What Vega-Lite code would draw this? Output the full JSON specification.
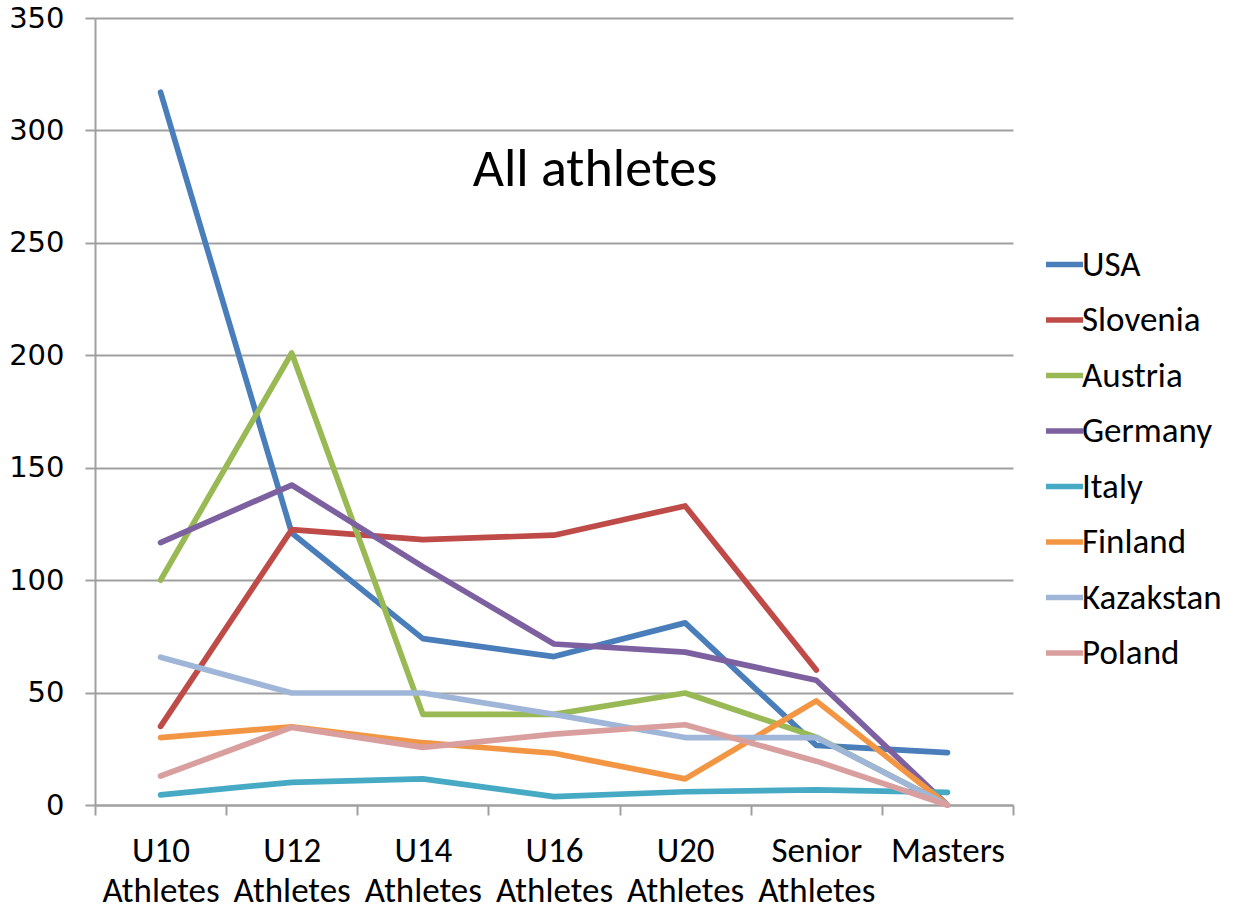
{
  "$schema": "https://vega.github.io/schema/vega-lite/v6.json",
  "width": 918,
  "height": 787,
  "autosize": {"type": "none"},
  "padding": {"left": 95, "top": 18, "right": 222, "bottom": 108},
  "background": "white",
  "config": {"view": {"stroke": null}},
  "title": {
    "text": "All athletes",
    "font": "Carlito, Liberation Sans Narrow, Open Sans",
    "fontSize": 54,
    "fontWeight": "normal",
    "color": "black",
    "anchor": "middle",
    "frame": "group",
    "dx": 41,
    "offset": -236,
    "baseline": "alphabetic"
  },
  "data": {
    "values": [
      {"country": "USA", "group": "U10 Athletes", "value": 317},
      {"country": "USA", "group": "U12 Athletes", "value": 121},
      {"country": "USA", "group": "U14 Athletes", "value": 74},
      {"country": "USA", "group": "U16 Athletes", "value": 66},
      {"country": "USA", "group": "U20 Athletes", "value": 81},
      {"country": "USA", "group": "Senior Athletes", "value": 26.5},
      {"country": "USA", "group": "Masters", "value": 23.3},
      {"country": "Slovenia", "group": "U10 Athletes", "value": 35},
      {"country": "Slovenia", "group": "U12 Athletes", "value": 122.5},
      {"country": "Slovenia", "group": "U14 Athletes", "value": 118},
      {"country": "Slovenia", "group": "U16 Athletes", "value": 120},
      {"country": "Slovenia", "group": "U20 Athletes", "value": 133},
      {"country": "Slovenia", "group": "Senior Athletes", "value": 60},
      {"country": "Austria", "group": "U10 Athletes", "value": 100},
      {"country": "Austria", "group": "U12 Athletes", "value": 201},
      {"country": "Austria", "group": "U14 Athletes", "value": 40.3},
      {"country": "Austria", "group": "U16 Athletes", "value": 40.3},
      {"country": "Austria", "group": "U20 Athletes", "value": 49.8},
      {"country": "Austria", "group": "Senior Athletes", "value": 30.2},
      {"country": "Austria", "group": "Masters", "value": 0},
      {"country": "Germany", "group": "U10 Athletes", "value": 116.7},
      {"country": "Germany", "group": "U12 Athletes", "value": 142.3},
      {"country": "Germany", "group": "U14 Athletes", "value": 106},
      {"country": "Germany", "group": "U16 Athletes", "value": 71.6},
      {"country": "Germany", "group": "U20 Athletes", "value": 68},
      {"country": "Germany", "group": "Senior Athletes", "value": 55.5},
      {"country": "Germany", "group": "Masters", "value": 0},
      {"country": "Italy", "group": "U10 Athletes", "value": 4.5},
      {"country": "Italy", "group": "U12 Athletes", "value": 10.1},
      {"country": "Italy", "group": "U14 Athletes", "value": 11.6},
      {"country": "Italy", "group": "U16 Athletes", "value": 3.7},
      {"country": "Italy", "group": "U20 Athletes", "value": 5.9},
      {"country": "Italy", "group": "Senior Athletes", "value": 6.7},
      {"country": "Italy", "group": "Masters", "value": 5.6},
      {"country": "Finland", "group": "U10 Athletes", "value": 30},
      {"country": "Finland", "group": "U12 Athletes", "value": 34.8},
      {"country": "Finland", "group": "U14 Athletes", "value": 27.7},
      {"country": "Finland", "group": "U16 Athletes", "value": 23},
      {"country": "Finland", "group": "U20 Athletes", "value": 11.6},
      {"country": "Finland", "group": "Senior Athletes", "value": 46.3},
      {"country": "Finland", "group": "Masters", "value": 0},
      {"country": "Kazakstan", "group": "U10 Athletes", "value": 65.7},
      {"country": "Kazakstan", "group": "U12 Athletes", "value": 49.8},
      {"country": "Kazakstan", "group": "U14 Athletes", "value": 49.8},
      {"country": "Kazakstan", "group": "U16 Athletes", "value": 40.3},
      {"country": "Kazakstan", "group": "U20 Athletes", "value": 30},
      {"country": "Kazakstan", "group": "Senior Athletes", "value": 30},
      {"country": "Kazakstan", "group": "Masters", "value": 0},
      {"country": "Poland", "group": "U10 Athletes", "value": 12.9},
      {"country": "Poland", "group": "U12 Athletes", "value": 34.5},
      {"country": "Poland", "group": "U14 Athletes", "value": 25.6},
      {"country": "Poland", "group": "U16 Athletes", "value": 31.5},
      {"country": "Poland", "group": "U20 Athletes", "value": 35.7},
      {"country": "Poland", "group": "Senior Athletes", "value": 19.5},
      {"country": "Poland", "group": "Masters", "value": 0}
    ]
  },
  "mark": {"type": "line", "strokeWidth": 5.7, "strokeCap": "round", "strokeJoin": "round"},
  "encoding": {
    "x": {
      "field": "group",
      "type": "nominal",
      "sort": ["U10 Athletes", "U12 Athletes", "U14 Athletes", "U16 Athletes", "U20 Athletes", "Senior Athletes", "Masters"],
      "scale": {"type": "band", "paddingInner": 0, "paddingOuter": 0},
      "axis": {
        "title": null,
        "tickBand": "extent",
        "grid": false,
        "domainColor": "#a0a0a0",
        "domainWidth": 2,
        "tickColor": "#a0a0a0",
        "tickWidth": 2,
        "tickSize": 10,
        "labelAngle": 0,
        "labelFont": "Carlito, Liberation Sans Narrow, Open Sans",
        "labelFontSize": 35,
        "labelColor": "black",
        "labelPadding": 18,
        "labelLineHeight": 40,
        "labelBaseline": "top",
        "labelExpr": "split(datum.label, ' ')"
      }
    },
    "y": {
      "field": "value",
      "type": "quantitative",
      "scale": {"domain": [0, 350], "nice": false},
      "axis": {
        "title": null,
        "values": [0, 50, 100, 150, 200, 250, 300, 350],
        "grid": true,
        "gridColor": "#a0a0a0",
        "gridWidth": 2,
        "domainColor": "#a0a0a0",
        "domainWidth": 2,
        "tickColor": "#a0a0a0",
        "tickWidth": 2,
        "tickSize": 10,
        "labelFont": "DejaVu Sans",
        "labelFontSize": 29,
        "labelColor": "black",
        "labelPadding": 21
      }
    },
    "color": {
      "field": "country",
      "type": "nominal",
      "scale": {
        "domain": ["USA", "Slovenia", "Austria", "Germany", "Italy", "Finland", "Kazakstan", "Poland"],
        "range": ["#4A7EBB", "#BE4B48", "#98B954", "#7D60A0", "#46AAC5", "#F39644", "#A0B6D8", "#D99F9E"]
      },
      "legend": {
        "orient": "none",
        "legendX": 948,
        "legendY": 225,
        "title": null,
        "padding": 0,
        "symbolType": "stroke",
        "symbolSize": 1369,
        "symbolStrokeWidth": 5.7,
        "labelFont": "Carlito, Liberation Sans Narrow, Open Sans",
        "labelFontSize": 35,
        "labelColor": "black",
        "labelOffset": -4,
        "rowPadding": 15.5
      }
    }
  }
}
